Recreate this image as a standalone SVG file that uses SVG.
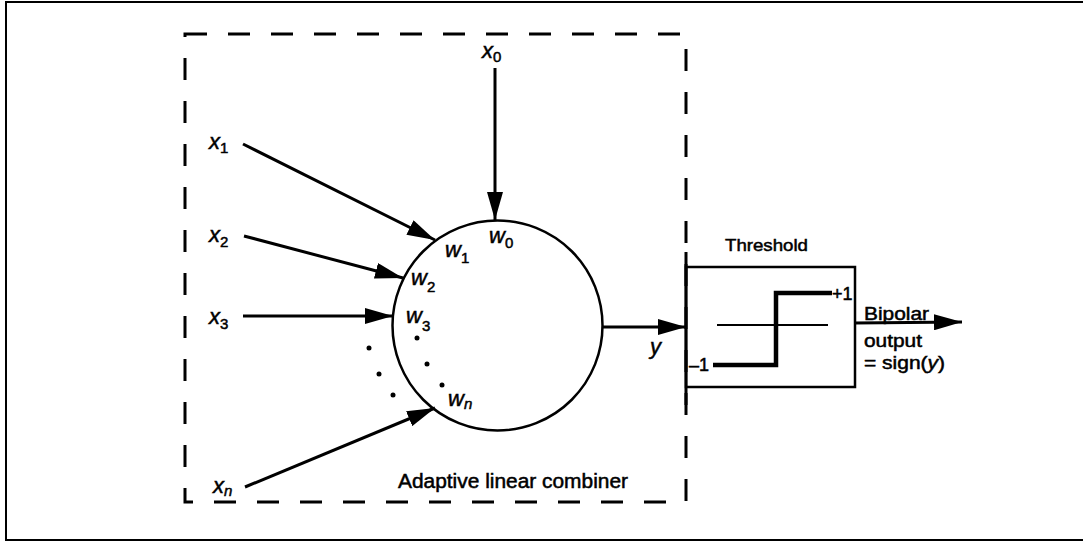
<svg xmlns="http://www.w3.org/2000/svg" width="1083" height="542" viewBox="0 0 1083 542">
<style>
text{font-family:"Liberation Sans",Arial,sans-serif;fill:#000;stroke:#000;stroke-width:0.5}
.v{font-style:italic;font-size:22px}
.s{font-size:15px;font-style:normal}
.lbl{font-size:18px}
.ln{stroke:#000;stroke-width:3;fill:none}
</style>
<defs>
<marker id="ah" markerUnits="userSpaceOnUse" markerWidth="30" markerHeight="16" refX="28" refY="8" orient="auto">
<path d="M0,0 L28,8 L0,16 Z" fill="#000"/>
</marker>
</defs>
<rect width="1083" height="542" fill="#fff"/>
<g id="frame">
<path d="M1083,2 H6 V540 H1083" fill="none" stroke="#000" stroke-width="2"/>
</g>
<g id="combiner-box">
<rect x="185" y="34" width="501" height="468" fill="none" stroke="#000" stroke-width="3" stroke-dasharray="22 21"/>
<text class="lbl" x="398" y="488" style="font-size:20px" textLength="230" lengthAdjust="spacingAndGlyphs">Adaptive linear combiner</text>
</g>
<g id="neuron">
<circle cx="497.5" cy="325.5" r="105" fill="none" stroke="#000" stroke-width="2.5"/>
<text class="v" x="489" y="243">w<tspan class="s" dy="5">0</tspan></text>
<text class="v" x="445" y="257">w<tspan class="s" dy="6">1</tspan></text>
<text class="v" x="411" y="285">w<tspan class="s" dy="7">2</tspan></text>
<text class="v" x="406" y="323">w<tspan class="s" dy="8">3</tspan></text>
<text class="v" x="448" y="406">w<tspan class="s" dy="3" style="font-style:italic">n</tspan></text>
<g fill="#000">
<circle cx="369" cy="348" r="2.5"/><circle cx="379" cy="374" r="2.5"/><circle cx="393" cy="395" r="2.5"/>
<circle cx="417" cy="338" r="2.5"/><circle cx="427" cy="364" r="2.5"/><circle cx="442" cy="385" r="2.5"/>
</g>
</g>
<g id="inputs">
<text class="v" x="482" y="58">x<tspan class="s" dy="4">0</tspan></text>
<text class="v" x="209" y="149">x<tspan class="s" dy="4">1</tspan></text>
<text class="v" x="209" y="242">x<tspan class="s" dy="5">2</tspan></text>
<text class="v" x="209" y="324">x<tspan class="s" dy="5">3</tspan></text>
<text class="v" x="213" y="493">x<tspan class="s" dy="3" style="font-style:italic">n</tspan></text>
</g>
<g id="threshold">
<rect x="686" y="267" width="169" height="120" fill="none" stroke="#000" stroke-width="2.5"/>
<line x1="686" y1="252" x2="686" y2="405" stroke="#000" stroke-width="3"/>
<line x1="717" y1="325" x2="828" y2="325" stroke="#000" stroke-width="2"/>
<path d="M713,365 H776 V293 H832" fill="none" stroke="#000" stroke-width="4.5"/>
<text class="lbl" x="725" y="251" style="font-size:17px" textLength="83" lengthAdjust="spacingAndGlyphs">Threshold</text>
<text class="lbl" x="832" y="300">+1</text>
<text class="lbl" x="689" y="371">–1</text>
</g>
<g id="output-labels">
<text class="lbl" x="864" y="320" textLength="65" lengthAdjust="spacingAndGlyphs">Bipolar</text>
<text class="lbl" x="864" y="347" textLength="58" lengthAdjust="spacingAndGlyphs">output</text>
<text class="lbl" x="864" y="369" textLength="81" lengthAdjust="spacingAndGlyphs">= sign(<tspan font-style="italic">y</tspan>)</text>
<text class="v" x="650" y="354">y</text>
</g>
<g id="connectors">
<line class="ln" x1="495" y1="68" x2="495" y2="220" marker-end="url(#ah)"/>
<line class="ln" x1="243" y1="144" x2="435" y2="240" marker-end="url(#ah)"/>
<line class="ln" x1="244" y1="236" x2="403" y2="278" marker-end="url(#ah)"/>
<line class="ln" x1="243" y1="316" x2="393" y2="316" marker-end="url(#ah)"/>
<line class="ln" x1="245" y1="487" x2="435" y2="408" marker-end="url(#ah)"/>
<line class="ln" x1="602" y1="327" x2="686" y2="327" marker-end="url(#ah)"/>
<line class="ln" x1="855" y1="323" x2="962" y2="322" marker-end="url(#ah)"/>
</g>
</svg>
